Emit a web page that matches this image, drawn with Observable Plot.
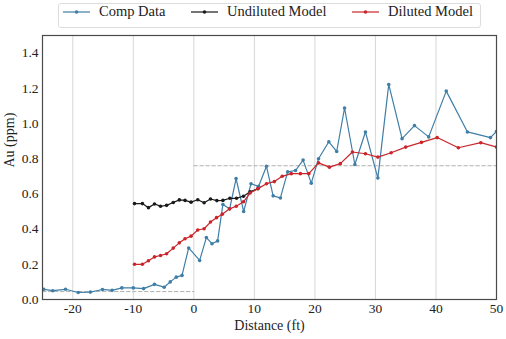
<!DOCTYPE html>
<html>
<head>
<meta charset="utf-8">
<script src="https://cdn.jsdelivr.net/npm/d3@7"></script>
<script src="https://cdn.jsdelivr.net/npm/@observablehq/plot@0.6"></script>
<style>
  html, body { margin: 0; padding: 0; background: white; }
  body { width: 506px; height: 339px; overflow: hidden; font-family: "Liberation Serif", serif; color: #222; }
  #legend { position: relative; height: 30px; }
  #legend .box { position: absolute; left: 58px; top: 3px; width: 421px; height: 23px; border: 1px solid #ddd; border-radius: 3px; }
  #legend .item { position: absolute; top: 0; height: 23px; display: flex; align-items: center; font-size: 14.5px; white-space: nowrap; }
  #legend svg { margin-right: 9px; }
  #chart svg text { font-family: "Liberation Serif", serif; }
</style>
</head>
<body>
<div id="legend"><div class="box"></div></div>
<div id="chart"></div>
<script>
// Comp data
const compX = [-24.8, -23.3, -21.2, -19.1, -17.1, -15.1, -13.5, -11.9, -10.0, -8.3, -6.5, -4.9, -3.9, -2.9, -1.95, -0.85,
  0.96, 2.07, 3.0, 3.93, 4.8, 5.92, 6.98, 8.23, 9.45, 10.7, 12.0, 13.1, 14.3, 15.5, 16.8, 18.05, 19.4, 20.6, 22.3, 23.6,
  24.9, 26.6, 28.35, 30.4, 32.2, 34.4, 36.45, 38.8, 41.7, 45.2, 49.0, 50.0];
const compY = [0.058, 0.05, 0.058, 0.04, 0.042, 0.057, 0.052, 0.066, 0.066, 0.062, 0.086, 0.07, 0.10, 0.127, 0.137, 0.293,
  0.222, 0.352, 0.317, 0.333, 0.54, 0.515, 0.687, 0.50, 0.658, 0.643, 0.757, 0.589, 0.577, 0.725, 0.733, 0.792, 0.661, 0.80, 0.896, 0.841,
  1.088, 0.767, 0.952, 0.69, 1.222, 0.914, 0.988, 0.924, 1.184, 0.952, 0.92, 0.955];

// Undiluted model
const undilX = [-9.8, -8.5, -7.5, -6.5, -5.5, -4.5, -3.4, -2.4, -1.45, -0.46, 0.65, 1.7, 2.75, 3.8, 4.8, 5.95, 7.05, 8.2, 9.3, 10.6];
const undilY = [0.545, 0.545, 0.522, 0.543, 0.53, 0.535, 0.551, 0.566, 0.563, 0.553, 0.567, 0.55, 0.571, 0.562, 0.563, 0.575, 0.575, 0.587, 0.612, 0.63];

// Diluted model
const dilX = [-9.8, -8.5, -7.5, -6.5, -5.5, -4.5, -3.4, -2.4, -1.45, -0.46, 0.65, 1.7, 2.75, 3.75, 4.7, 5.9, 7.0, 8.2, 9.3, 10.6,
  12.0, 13.3, 14.6, 16.1, 17.6, 19.0, 20.6, 22.4, 24.2, 26.2, 28.35, 30.4, 32.6, 35.0, 37.6, 40.2, 43.7, 47.4, 50.0];
const dilY = [0.20, 0.20, 0.22, 0.242, 0.25, 0.26, 0.292, 0.322, 0.345, 0.36, 0.395, 0.402, 0.44, 0.465, 0.485, 0.515, 0.53, 0.555, 0.605, 0.63,
  0.658, 0.67, 0.70, 0.715, 0.715, 0.715, 0.776, 0.752, 0.772, 0.838, 0.828, 0.809, 0.834, 0.866, 0.893, 0.92, 0.862, 0.891, 0.866];

// Cut-off reference (dashed)
const cutSeg = ["low", "low", "high", "high"];
const cutX = [-25, 0, 0, 50];
const cutY = [0.045, 0.045, 0.76, 0.76];

// Ticks and labels
const xTicks = [-20, -10, 0, 10, 20, 30, 40, 50];
const gridTicks = [-20, -10, 0, 10, 20, 30, 40];
const yTicks = [0.0, 0.2, 0.4, 0.6, 0.8, 1.0, 1.2, 1.4];
const seriesNames = ["Comp Data", "Undiluted Model", "Diluted Model"];
const seriesColors = ["#3f7ea6", "#1a1a1a", "#c9252b"];
const xLabel = "Distance (ft)";
const yLabel = "Au (ppm)";

const zip = (xs, ys) => xs.map((x, i) => ({x, y: ys[i]}));
const comp = zip(compX, compY);
const undil = zip(undilX, undilY);
const dil = zip(dilX, dilY);
const cut = cutX.map((x, i) => ({x, y: cutY[i], seg: cutSeg[i]}));

// Legend
const legendLeft = [5, 133, 294];
const legend = document.querySelector("#legend");
seriesNames.forEach((name, i) => {
  const item = document.createElement("div");
  item.className = "item";
  item.style.left = (58 + legendLeft[i]) + "px";
  item.innerHTML = `<svg width="27" height="6"><line x1="0" y1="3" x2="27" y2="3" stroke="${seriesColors[i]}" stroke-width="1.2"/><circle cx="13.5" cy="3" r="1.8" fill="${seriesColors[i]}"/></svg>`;
  const span = document.createElement("span");
  span.textContent = name;
  item.appendChild(span);
  legend.appendChild(item);
});

const chart = Plot.plot({
  width: 506,
  height: 309,
  marginTop: 5,
  marginLeft: 42,
  marginRight: 10,
  marginBottom: 40,
  style: {fontFamily: "Liberation Serif, serif", fontSize: "13.5px", color: "#222", background: "white"},
  x: {domain: [-25, 50], ticks: xTicks, tickFormat: d => String(d), tickSize: 0, tickPadding: 4, label: null},
  y: {domain: [0, 1.5], ticks: yTicks, tickFormat: d3.format(".1f"), tickSize: 0, tickPadding: 4, label: null},
  marks: [
    Plot.ruleX(gridTicks, {stroke: "#d6d6d6", strokeWidth: 1}),
    Plot.line(cut, {x: "x", y: "y", z: "seg", stroke: "#b0b0b0", strokeWidth: 1, strokeDasharray: "3.5,2.5"}),
    Plot.line(comp, {x: "x", y: "y", stroke: seriesColors[0], strokeWidth: 1.2, clip: true}),
    Plot.dot(comp, {x: "x", y: "y", r: 1.8, fill: seriesColors[0], clip: true}),
    Plot.line(undil, {x: "x", y: "y", stroke: seriesColors[1], strokeWidth: 1.2}),
    Plot.dot(undil, {x: "x", y: "y", r: 1.8, fill: seriesColors[1]}),
    Plot.line(dil, {x: "x", y: "y", stroke: seriesColors[2], strokeWidth: 1.2, clip: true}),
    Plot.dot(dil, {x: "x", y: "y", r: 1.8, fill: seriesColors[2], clip: true}),
    Plot.frame({stroke: "#4a4a4a", strokeWidth: 1.2}),
    Plot.text([xLabel], {frameAnchor: "bottom", dy: 30, text: d => d, fontSize: 14}),
    Plot.text([yLabel], {frameAnchor: "left", dx: -33, rotate: -90, text: d => d, fontSize: 14})
  ]
});
document.querySelector("#chart").appendChild(chart);
</script>
</body>
</html>
